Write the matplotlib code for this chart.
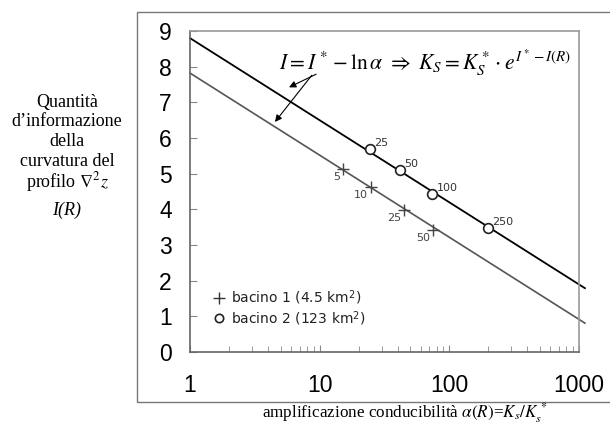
import matplotlib
matplotlib.use("Agg")
import matplotlib.pyplot as plt
from matplotlib.lines import Line2D
from matplotlib.patches import Rectangle

# rette I = I* - ln(alpha) per i due bacini (estremi del tratto disegnato)
alpha_retta = [1, 1110]
I_retta_b1 = [7.82, 0.81]
I_retta_b2 = [8.80, 1.79]

# punti misurati, etichettati con la risoluzione R
alpha_b1 = [15.0, 24.9, 44.9, 74.3]
I_b1 = [5.12, 4.63, 3.98, 3.42]
R_b1 = ["5", "10", "25", "50"]

alpha_b2 = [24.4, 41.6, 74.0, 197.0]
I_b2 = [5.68, 5.10, 4.43, 3.47]
R_b2 = ["25", "50", "100", "250"]

y_ticks = list(range(0, 10))
x_ticks = [1, 10, 100, 1000]
x_tick_labels = ["1", "10", "100", "1000"]

plt.rcParams["mathtext.fontset"] = "stix"

fig = plt.figure(figsize=(6.1, 4.24), dpi=100)
ax = fig.add_axes([0.3115, 0.1698, 0.6377, 0.7571])

# cornice esterna
fig.patches.append(Rectangle((0.2246, 0.0519), 0.8, 0.9198, transform=fig.transFigure,
                             fill=False, edgecolor="#777777", lw=1.0))

ax.plot(alpha_retta, I_retta_b2, color="black", lw=1.3, clip_on=False, zorder=2)
ax.plot(alpha_retta, I_retta_b1, color="#555555", lw=1.2, clip_on=False, zorder=2)

ax.plot(alpha_b1, I_b1, linestyle="none", marker="+", ms=8, mew=1.0,
        color="#444444", zorder=3)
ax.plot(alpha_b2, I_b2, linestyle="none", marker="o", ms=7, mew=1.2,
        mfc="white", mec="#222222", zorder=3)

for a, v, t in zip(alpha_b1, I_b1, R_b1):
    ax.annotate(t, (a, v), xytext=(-2, -2), textcoords="offset points",
                ha="right", va="top", fontsize=8, color="#444444",
                family="DejaVu Sans")
for a, v, t in zip(alpha_b2, I_b2, R_b2):
    ax.annotate(t, (a, v), xytext=(3, 1), textcoords="offset points",
                ha="left", va="bottom", fontsize=8, color="#333333",
                family="DejaVu Sans")

ax.set_xscale("log")
ax.set_xlim(1, 1000)
ax.set_ylim(0, 9)
ax.set_yticks(y_ticks)
ax.set_xticks(x_ticks)
ax.set_xticklabels(x_tick_labels)
ax.tick_params(axis="both", which="both", direction="in", color="#888888",
               labelsize=16.5, labelcolor="black")
ax.tick_params(axis="y", length=5, pad=13)
ax.tick_params(axis="x", which="major", length=5, pad=16)
ax.tick_params(axis="x", which="minor", length=4)
for lab in ax.get_xticklabels() + ax.get_yticklabels():
    lab.set_family("Liberation Sans")

for side in ["left", "bottom"]:
    ax.spines[side].set_color("#666666")
    ax.spines[side].set_linewidth(1.2)
for side in ["top", "right"]:
    ax.spines[side].set_color("#999999")
    ax.spines[side].set_linewidth(1.2)

# formula e frecce verso le due rette
ax.text(0.604, 0.90, r"$I = I^* - \ln\alpha\ \Rightarrow\ K_S = K_S^*\cdot e^{I^* - I(R)}$",
        transform=ax.transAxes, ha="center", va="center", fontsize=15.5)
ax.annotate("", xy=(5.8, 7.42), xytext=(9.4, 7.79),
            arrowprops=dict(arrowstyle="-|>", color="black", lw=0.8, mutation_scale=10,
                            shrinkA=0, shrinkB=0))
ax.annotate("", xy=(4.52, 6.45), xytext=(8.7, 7.76),
            arrowprops=dict(arrowstyle="-|>", color="black", lw=0.8, mutation_scale=10,
                            shrinkA=0, shrinkB=0))

handles = [
    Line2D([], [], linestyle="none", marker="+", ms=8, mew=1.0, color="#333333"),
    Line2D([], [], linestyle="none", marker="o", ms=6, mew=1.2, mfc="white", mec="#222222"),
]
leg = ax.legend(handles, [r"bacino 1 (4.5 km$^\mathregular{2}$)", r"bacino 2 (123 km$^\mathregular{2}$)"],
                loc="lower left", bbox_to_anchor=(0.028, 0.037), frameon=False,
                handlelength=0.8, handletextpad=0.46, labelspacing=0.1,
                prop={"family": "DejaVu Sans", "size": 10})
for t in leg.get_texts():
    t.set_color("#222222")

# etichette degli assi in stile tipografico
ylab = ["Quantità", "d\u2019informazione", "della", "curvatura del", r"profilo $\nabla^2 z$"]
for i, riga in enumerate(ylab):
    fig.text(67 / 610, 1 - (102 + 20 * i) / 424, riga, ha="center", va="center",
             family="Liberation Serif", fontsize=13)
fig.text(67 / 610, 1 - 210 / 424, "I(R)", ha="center", va="center",
         family="Liberation Serif", style="italic", fontsize=13)

fig.text(405 / 610, 1 - 413 / 424,
         r"amplificazione conducibilità $\alpha(R)$=$K_s/K_s^{\,*}$",
         ha="center", va="center", family="Liberation Serif", fontsize=12.3)

fig.savefig("out.png", dpi=100)
